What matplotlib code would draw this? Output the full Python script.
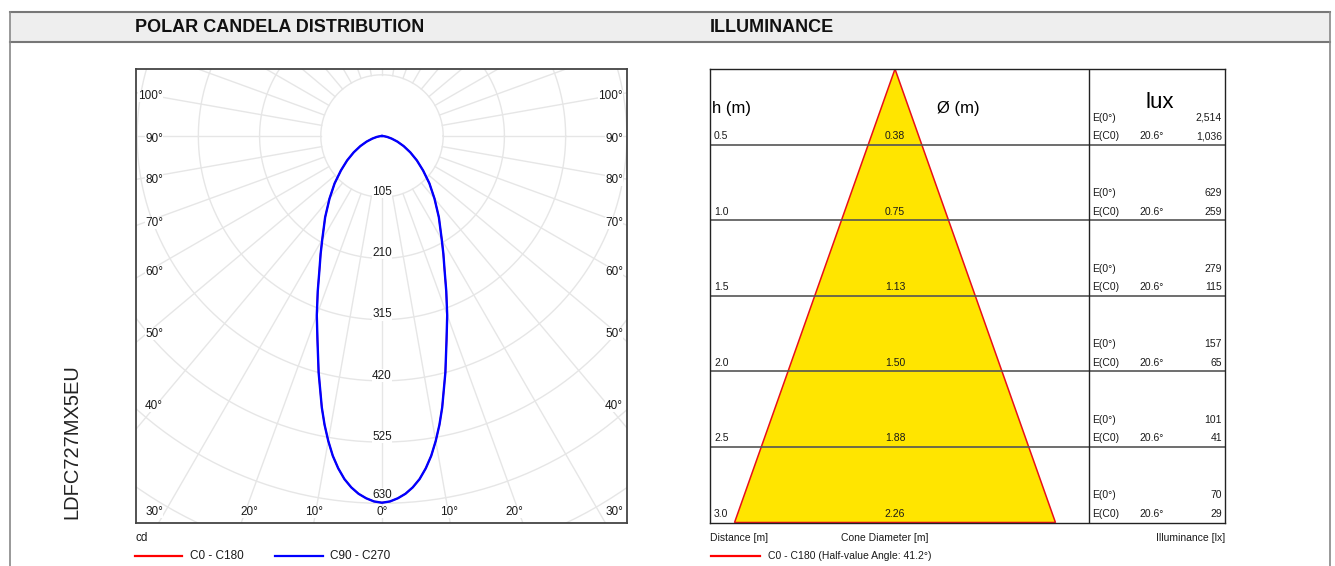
import numpy as np
import matplotlib
matplotlib.use('Agg')
import matplotlib.pyplot as plt

plt.rcParams['font.family'] = ['Liberation Sans', 'DejaVu Sans']

# luminous intensity (cd) vs gamma angle
gamma = [0, 1.25, 2.5, 3.75, 5, 6.25, 7.5, 8.75, 10, 11.25, 12.5, 15, 17.5,
         20, 22.5, 25, 27.5, 30, 35, 40, 45, 50, 55, 60, 65, 70, 75, 80, 85, 90]
cd_c0 = [629, 627, 622, 615, 605, 592, 575, 555, 531, 505, 477, 420, 368,
         327, 288, 254, 228, 205, 170, 140, 115, 92, 73, 56, 41, 28, 17, 9, 3, 0]
cd_c90 = [629, 627, 622, 615, 605, 592, 575, 555, 531, 505, 477, 420, 368,
          327, 288, 254, 228, 205, 170, 140, 115, 92, 73, 56, 41, 28, 17, 9, 3, 0]
ring_cd = [105, 210, 315, 420, 525, 630]

# illuminance table
heights = [0.5, 1.0, 1.5, 2.0, 2.5, 3.0]
diameters = [0.38, 0.75, 1.13, 1.50, 1.88, 2.26]
e_center = [2514, 629, 279, 157, 101, 70]
e_c0 = [1036, 259, 115, 65, 41, 29]
half_angle = 20.6
half_value_angle = 41.2

W, H = 1335, 566
fig = plt.figure(figsize=(W / 100, H / 100), dpi=100)


def rect(x0, y0, x1, y1):
    return [x0 / W, 1 - y1 / H, (x1 - x0) / W, (y1 - y0) / H]


GRID = '#e6e6e6'
TXT = '#1a1a1a'

# ---- polar candela diagram
S = 0.583          # px per cd
CX, CY = 382, 136  # origin in px
axp = fig.add_axes(rect(135.5, 69, 627, 523))
axp.set_xlim((135.5 - CX) / S, (627 - CX) / S)
axp.set_ylim(-(523 - CY) / S, (CY - 69) / S)
axp.set_xticks([])
axp.set_yticks([])
for sp in axp.spines.values():
    sp.set_color('#444444')
    sp.set_linewidth(1.3)

t = np.linspace(0, 2 * np.pi, 400)
step = ring_cd[0]
for r in np.arange(step, step * 12, step):
    axp.plot(r * np.cos(t), r * np.sin(t), color=GRID, lw=1, zorder=1)
for a in np.radians(np.arange(0, 360, 10)):
    axp.plot([step * np.sin(a), 2000 * np.sin(a)],
             [-step * np.cos(a), -2000 * np.cos(a)], color=GRID, lw=1, zorder=1)

# the last ring label is lifted clear of the curve
lift = [9, 9, 9, 9, 9, 15]
for r, dy in zip(ring_cd, lift):
    axp.text(0, -r + dy, str(r), ha='center', va='center', fontsize=8.5,
             color=TXT, zorder=3,
             bbox=dict(fc='white', ec='none', pad=0.2))


def curve(g, I):
    g = np.radians(np.array(g, dtype=float))
    I = np.array(I, dtype=float)
    g = np.concatenate([-g[::-1], g[1:]])
    I = np.concatenate([I[::-1], I[1:]])
    return I * np.sin(g), -I * np.cos(g)


x0, y0 = curve(gamma, cd_c0)
x90, y90 = curve(gamma, cd_c90)
axp.plot(x0, y0, color='#ff0000', lw=1.1, zorder=4)
axp.plot(x90, y90, color='#0000ff', lw=1.7, zorder=5, solid_joinstyle='round')

# ---- illuminance cone
PXM = 142.0                # px per metre (diameter)
PXH = 453.5 / heights[-1]  # px per metre (height)
TX = 895
axi = fig.add_axes(rect(710, 69, 1225, 522.5))
axi.set_xlim((710 - TX) / PXM, (1225 - TX) / PXM)
axi.set_ylim(heights[-1], 0)
axi.set_xticks([])
axi.set_yticks([])
for sp in axi.spines.values():
    sp.set_color('#222222')
    sp.set_linewidth(1.0)

d_max = diameters[-1]
axi.fill([0, -d_max / 2, d_max / 2], [0, heights[-1], heights[-1]],
         facecolor='#ffe500', edgecolor='#e8101a', lw=1.1, zorder=1)
for h in heights[:-1]:
    axi.axhline(h, color='#555555', lw=1.2, zorder=2)
axi.axvline((1089 - TX) / PXM, color='#222222', lw=1.0, zorder=2)

xl = (714 - TX) / PXM
xe = (1092 - TX) / PXM
xa = (1139 - TX) / PXM
xv = (1222 - TX) / PXM
o1 = 8.5 / PXH
o2 = 27 / PXH
fs = 7.5
for h, d, e0, ec in zip(heights, diameters, e_center, e_c0):
    axi.text(xl, h - o1, f'{h:.1f}', ha='left', va='center', fontsize=fs, color=TXT)
    axi.text(0, h - o1, f'{d:.2f}', ha='center', va='center', fontsize=fs, color=TXT, zorder=3)
    axi.text(xe, h - o2, 'E(0°)', ha='left', va='center', fontsize=fs, color=TXT)
    axi.text(xv, h - o2, f'{e0:,}', ha='right', va='center', fontsize=fs, color=TXT)
    axi.text(xe, h - o1, 'E(C0)', ha='left', va='center', fontsize=fs, color=TXT)
    axi.text(xa, h - o1, f'{half_angle}°', ha='left', va='center', fontsize=fs, color=TXT)
    axi.text(xv, h - o1, f'{ec:,}', ha='right', va='center', fontsize=fs, color=TXT)

axi.text((712 - TX) / PXM, (108 - 69) / PXH, 'h (m)', ha='left', va='center', fontsize=12)
axi.text((958 - TX) / PXM, (108 - 69) / PXH, 'Ø (m)', ha='center', va='center', fontsize=12)
axi.text((1160 - TX) / PXM, (103 - 69) / PXH, 'lux', ha='center', va='center', fontsize=16)

# ---- page furniture in pixel coordinates
ov = fig.add_axes([0, 0, 1, 1], zorder=10)
ov.set_xlim(0, W)
ov.set_ylim(H, 0)
ov.axis('off')

ov.fill_between([10, 1330], 12, 42, color='#eeeeee', lw=0)
ov.plot([10, 1330], [12, 12], color='#777777', lw=1.5)
ov.plot([10, 1330], [42, 42], color='#777777', lw=1.5)
ov.plot([10, 10], [12, H], color='#888888', lw=1.2)
ov.plot([1330, 1330], [12, H], color='#888888', lw=1.2)
ov.text(135, 27, 'POLAR CANDELA DISTRIBUTION', ha='left', va='center',
        fontsize=13, fontweight='bold', color='#111111')
ov.text(710, 27, 'ILLUMINANCE', ha='left', va='center',
        fontsize=13, fontweight='bold', color='#111111')
ov.text(72, 442, 'LDFC727MX5EU', rotation=90, ha='center', va='center',
        fontsize=14.5, color='#222222')

# polar angle labels
side = [('100°', 96), ('90°', 139), ('80°', 180), ('70°', 223),
        ('60°', 272), ('50°', 334), ('40°', 406)]
box = dict(fc='white', ec='none', pad=0.3)
for lab, y in side:
    ov.text(163, y, lab, ha='right', va='center', fontsize=8.5, color=TXT, bbox=box)
    ov.text(623, y, lab, ha='right', va='center', fontsize=8.5, color=TXT, bbox=box)
bottom = [('30°', 163, 'right'), ('20°', 249.5, 'center'), ('10°', 314, 'center'),
          ('0°', 382, 'center'), ('10°', 449, 'center'), ('20°', 514.5, 'center'),
          ('30°', 623, 'right')]
for lab, x, ha in bottom:
    ov.text(x, 512, lab, ha=ha, va='center', fontsize=8.5, color=TXT, bbox=box)

ov.text(136, 538, 'cd', ha='left', va='center', fontsize=8.5, color=TXT)
ov.plot([135, 182], [556, 556], color='#ff0000', lw=1.6)
ov.text(190, 556, 'C0 - C180', ha='left', va='center', fontsize=8.5, color=TXT)
ov.plot([275, 323], [556, 556], color='#0000ff', lw=1.6)
ov.text(330.5, 556, 'C90 - C270', ha='left', va='center', fontsize=8.5, color=TXT)

ov.text(710, 538, 'Distance [m]', ha='left', va='center', fontsize=7.5, color=TXT)
ov.text(841, 538, 'Cone Diameter [m]', ha='left', va='center', fontsize=7.5, color=TXT)
ov.text(1225, 538, 'Illuminance [lx]', ha='right', va='center', fontsize=7.5, color=TXT)
ov.plot([711, 760], [556, 556], color='#ff0000', lw=1.6)
ov.text(768, 556, f'C0 - C180 (Half-value Angle: {half_value_angle}°)',
        ha='left', va='center', fontsize=7.5, color=TXT)

fig.savefig('out.png', dpi=100)
